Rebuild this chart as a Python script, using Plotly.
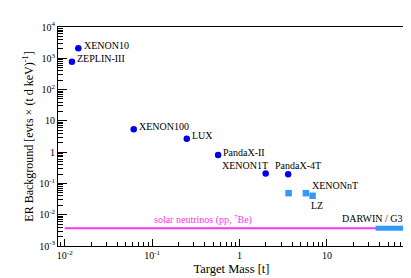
import plotly.graph_objects as go
import numpy as np

# ---- data ----
exp_names = ["XENON10", "ZEPLIN-III", "XENON100", "LUX", "PandaX-II", "XENON1T", "PandaX-4T"]
exp_mass = [0.0143, 0.0121, 0.0616, 0.249, 0.569, 1.99, 3.6]
exp_bkg = [2100, 780, 5.4, 2.7, 0.81, 0.207, 0.198]

proj_names = ["", "XENONnT", "LZ"]
proj_mass = [3.64, 5.74, 6.85]
proj_bkg = [0.0488, 0.0488, 0.0403]

solar_mass = [0.01, 80]
solar_bkg = [0.0037, 0.0037]
darwin_mass = [36, 80]
darwin_bkg = [0.0037, 0.0037]

x_tickvals = [0.01, 0.1, 1, 10]
x_ticktext = ["10<sup>-2</sup>", "10<sup>-1</sup>", "1", "10"]
y_tickvals = [1e-3, 1e-2, 1e-1, 1, 10, 100, 1000, 10000]
y_ticktext = ["10<sup>-3</sup>", "10<sup>-2</sup>", "10<sup>-1</sup>", "1", "10",
              "10<sup>2</sup>", "10<sup>3</sup>", "10<sup>4</sup>"]

FONT = "'Liberation Serif', 'Times New Roman', Times, serif"
BLUE = "#0000ee"
AZURE = "#3399ff"
MAG = "#ff33ee"

fig = go.Figure()
fig.add_trace(go.Scatter(x=solar_mass, y=solar_bkg, mode="lines",
                         line=dict(color=MAG, width=2), showlegend=False))
fig.add_trace(go.Scatter(x=darwin_mass, y=darwin_bkg, mode="lines",
                         line=dict(color=AZURE, width=5), showlegend=False))
fig.add_trace(go.Scatter(x=exp_mass, y=exp_bkg, mode="markers",
                         marker=dict(color=BLUE, size=6.5, symbol="circle"), showlegend=False))
fig.add_trace(go.Scatter(x=proj_mass, y=proj_bkg, mode="markers",
                         marker=dict(color=AZURE, size=6.5, symbol="square"), showlegend=False))

lg = np.log10
# label offsets (pixels) per experiment
exp_lbl = {
    "XENON10": ("left", 4, 3),
    "ZEPLIN-III": ("left", 3, 3),
    "XENON100": ("left", 3, 3),
    "LUX": ("left", 3, 3),
    "PandaX-II": ("left", 3, 3),
    "XENON1T": ("right", 4, 8),
    "PandaX-4T": ("center", 10, 9),
}
annots = []
for n, m, b in zip(exp_names, exp_mass, exp_bkg):
    xa, xs, ys = exp_lbl[n]
    annots.append(dict(x=lg(m), y=lg(b), text=n, showarrow=False, xanchor=xa, yanchor="middle",
                       xshift=xs, yshift=ys, font=dict(family=FONT, size=10, color="black")))
annots.append(dict(x=lg(proj_mass[1]), y=lg(proj_bkg[1]), text=proj_names[1], showarrow=False,
                   xanchor="left", yanchor="middle", xshift=4, yshift=8,
                   font=dict(family=FONT, size=10, color="black")))
annots.append(dict(x=lg(proj_mass[2]), y=lg(proj_bkg[2]), text=proj_names[2], showarrow=False,
                   xanchor="left", yanchor="middle", xshift=-4, yshift=-10,
                   font=dict(family=FONT, size=10, color="black")))
annots.append(dict(x=1, xref="paper", y=lg(darwin_bkg[0]), text="DARWIN / G3", showarrow=False,
                   xanchor="right", yanchor="middle", xshift=0, yshift=10,
                   font=dict(family=FONT, size=10, color="black")))
annots.append(dict(x=lg(0.1), y=lg(solar_bkg[0]), text="solar neutrinos (pp, <sup>7</sup>Be)",
                   showarrow=False, xanchor="left", yanchor="middle", xshift=0, yshift=9,
                   font=dict(family=FONT, size=10, color=MAG)))

def minors(lo, hi):
    out = []
    for d in range(lo, hi):
        for k in range(2, 10):
            out.append(k * 10.0 ** d)
    return out

fig.update_layout(
    width=411, height=278,
    margin=dict(l=50, r=14, t=14, b=34),
    paper_bgcolor="white", plot_bgcolor="white",
    font=dict(family=FONT, size=10, color="black"),
    annotations=annots,
)
fig.update_xaxes(type="log", range=[-2.077, 1.893], showgrid=False, zeroline=False,
                 showline=True, linecolor="black", linewidth=1, mirror=True,
                 ticks="inside", ticklen=7, tickcolor="black",
                 tickvals=x_tickvals, ticktext=x_ticktext,
                 tickfont=dict(family=FONT, size=10, color="black"),
                 minor=dict(ticks="inside", ticklen=4, tickcolor="black", tickvals=minors(-3, 2), showgrid=False),
                 title=dict(text="Target Mass [t]", font=dict(family=FONT, size=12.5, color="black"), standoff=4))
fig.update_yaxes(type="log", range=[-3, 4], showgrid=False, zeroline=False,
                 showline=True, linecolor="black", linewidth=1, mirror=True,
                 ticks="inside", ticklen=9, tickcolor="black",
                 tickvals=y_tickvals, ticktext=y_ticktext,
                 tickfont=dict(family=FONT, size=10, color="black"),
                 minor=dict(ticks="inside", ticklen=5, tickcolor="black", tickvals=minors(-3, 4), showgrid=False),
                 title=dict(text="ER Background [evts × (t d keV)<sup>-1</sup>]",
                            font=dict(family=FONT, size=12, color="black"), standoff=2))

fig.write_html("out.html")
